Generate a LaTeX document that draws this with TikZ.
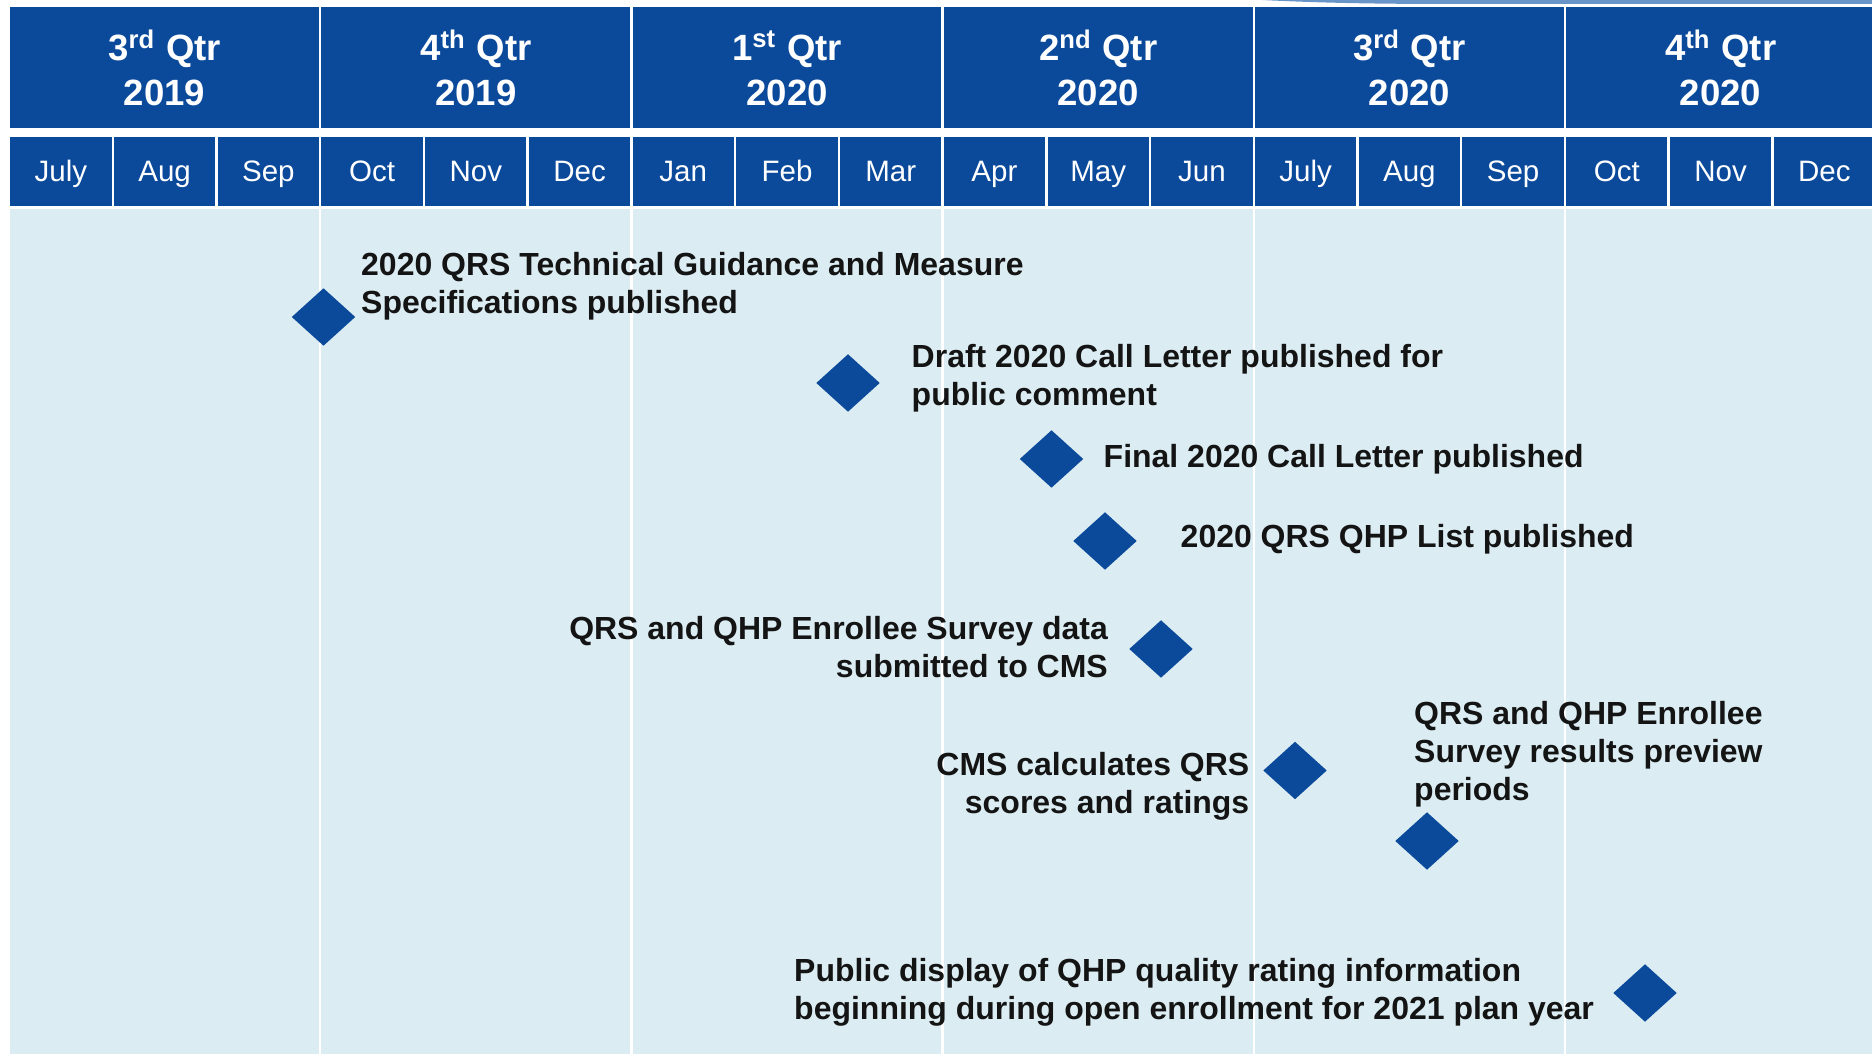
\documentclass[tikz,border=0pt]{standalone}
\usepackage{fontspec}
\setmainfont{Liberation Sans}
\definecolor{QtrBlue}{RGB}{11,74,155}
\definecolor{TrackBlue}{RGB}{219,237,243}
\definecolor{SwooshBlue}{RGB}{79,129,189}
\usetikzlibrary{shapes.geometric}

\begin{document}
\begin{tikzpicture}[x=0.1mm, y=-0.1mm,
  qtrbox/.style={rectangle, fill=QtrBlue, text=white, minimum width=30.88mm, minimum height=12.1mm, inner sep=0pt, font=\fontsize{10.4}{12.8}\selectfont\bfseries, align=center},
  monthbox/.style={rectangle, fill=QtrBlue, text=white, minimum width=10.13mm, minimum height=6.9mm, inner sep=0pt, text height=6.7pt, text depth=1pt, font=\fontsize{8.4}{10}\selectfont},
  milestone/.style={diamond, fill=QtrBlue, minimum width=6.4mm, minimum height=5.8mm, inner sep=0pt},
  note/.style={font=\fontsize{9.1}{10.8}\selectfont\bfseries, text=black!92, inner sep=0pt}
]
\useasboundingbox (0,0) rectangle (1872,1054);

% swoosh peeking over the header
\fill[SwooshBlue!85] (1262,0) .. controls (1320,3) and (1380,4) .. (1450,4) -- (1872,4) -- (1872,0) -- cycle;

% background track, one column per quarter
\foreach \j in {0,...,5}
  \fill[TrackBlue] ({9+311.2*\j+1.2},209) rectangle ({9+311.2*(\j+1)-1.2},1054);

% quarters
\foreach \q/\yr [count=\j from 0] in {3\textsuperscript{rd}/2019, 4\textsuperscript{th}/2019, 1\textsuperscript{st}/2020, 2\textsuperscript{nd}/2020, 3\textsuperscript{rd}/2020, 4\textsuperscript{th}/2020}
  \node[qtrbox] (q\j) at ({9+311.2*(\j+0.5)},68) {{\q} Qtr\\\yr};

% months
\foreach \m [count=\i from 0] in {July,Aug,Sep,Oct,Nov,Dec,Jan,Feb,Mar,Apr,May,Jun,July,Aug,Sep,Oct,Nov,Dec}
  \node[monthbox] (m\i) at ({9+103.73*(\i+0.5)},171.5) {\m};

% milestones
\node[milestone] (d1) at (323.5,317) {};
\node[note, anchor=west, align=left] (l1) at (360.5,286) {2020 QRS Technical Guidance and Measure\\Specifications published};

\node[milestone] (d2) at (848,383) {};
\node[note, anchor=west, align=left] (l2) at (911,378.5) {Draft 2020 Call Letter published for\\public comment};

\node[milestone] (d3) at (1051.5,459) {};
\node[note, anchor=west] (l3) at (1103,459) {Final 2020 Call Letter published};

\node[milestone] (d4) at (1105,541) {};
\node[note, anchor=west] (l4) at (1180,539) {2020 QRS QHP List published};

\node[milestone] (d5) at (1161,649) {};
\node[note, anchor=east, align=right] (l5) at (1108.5,647.5) {QRS and QHP Enrollee Survey data\\submitted to CMS};

\node[milestone] (d6) at (1295,770.5) {};
\node[note, anchor=east, align=right] (l6) at (1250,786) {CMS calculates QRS\\scores and ratings};

\node[milestone] (d7) at (1427,841) {};
\node[note, anchor=west, align=left] (l7) at (1413.5,754) {QRS and QHP Enrollee\\Survey results preview\\periods};

\node[milestone] (d8) at (1645,993) {};
\node[note, anchor=west, align=left] (l8) at (793.5,992.5) {Public display of QHP quality rating information\\beginning during open enrollment for 2021 plan year};
\end{tikzpicture}
\end{document}
